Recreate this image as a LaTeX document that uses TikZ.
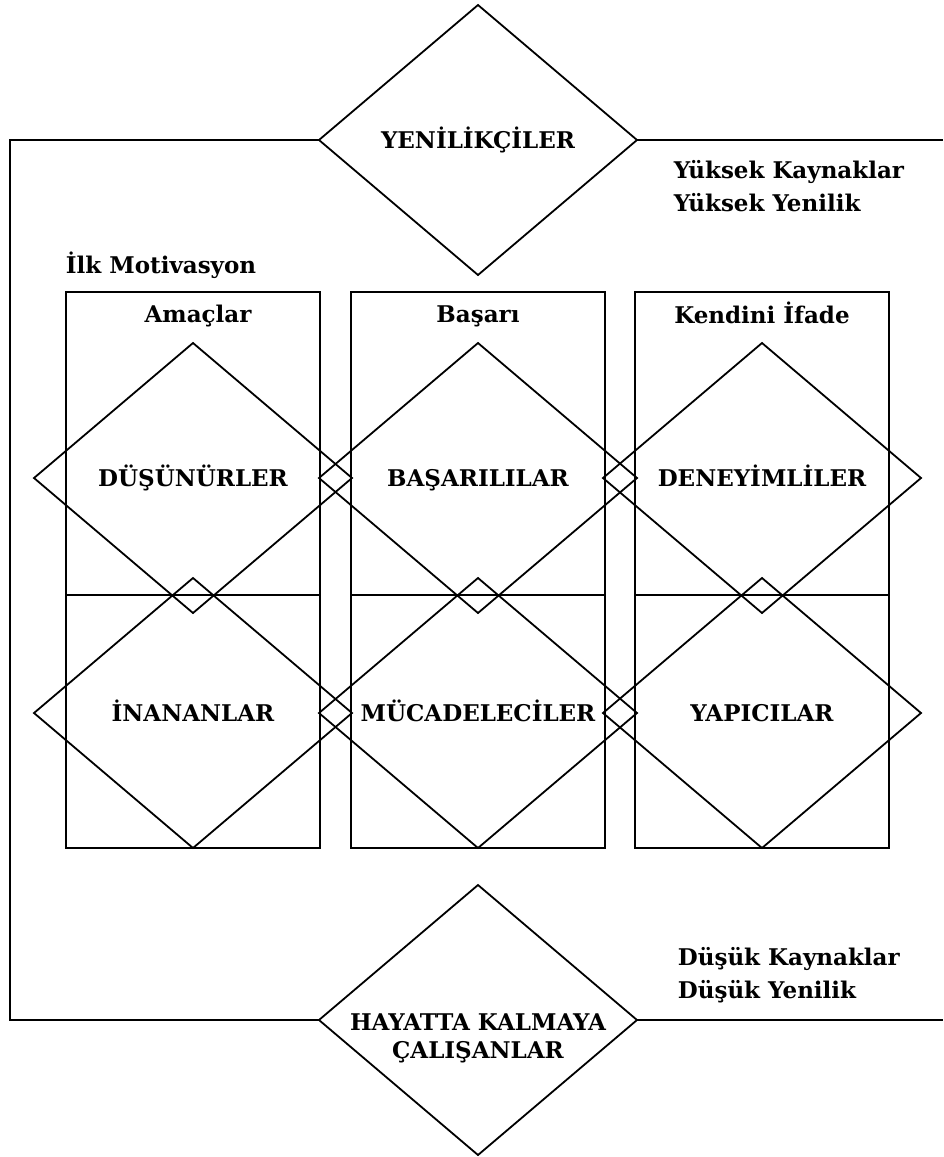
\documentclass[tikz,border=0pt]{standalone}
\usepackage{fontspec}
\setmainfont{DejaVu Serif}
\usetikzlibrary{shapes.geometric}
\tikzset{
  segment/.style={draw, diamond, inner sep=0pt, outer sep=0pt,
    text height=8.4pt, text depth=0pt,
    minimum width=159pt, minimum height=135pt},
  caption/.style={inner sep=0pt, font=\bfseries\fontsize{11.5}{16.5}\selectfont},
  side/.style={caption, align=left, anchor=west}
}

\begin{document}
\begin{tikzpicture}[x=0.5pt, y=-0.5pt, line width=0.9pt,
  every node/.style={font=\bfseries\fontsize{11.5}{14}\selectfont}]
\useasboundingbox (0,0) rectangle (943,1157);

\foreach \x in {66,351,635}
{
    \draw (\x,292) rectangle +(254,556);
    \draw (\x,595) -- +(254,0);
}

\node[segment] (innovators) at (478,140) {YENİLİKÇİLER};
\node[segment] (thinkers) at (193,478) {DÜŞÜNÜRLER};
\node[segment] (achievers) at (478,478) {BAŞARILILAR};
\node[segment] (experiencers) at (762,478) {DENEYİMLİLER};
\node[segment] (believers) at (193,713) {İNANANLAR};
\node[segment] (strivers) at (478,713) {MÜCADELECİLER};
\node[segment] (makers) at (762,713) {YAPICILAR};
\node[segment] (survivors) at (478,1020) {};
\node[align=center] (survivorstext) at (478,1038) {HAYATTA KALMAYA\\ÇALIŞANLAR};

\node[caption, anchor=west] (motivation) at (65,265) {İlk Motivasyon};
\node[caption] (ideals) at (198,316) {Amaçlar};
\node[caption] (achievement) at (478,316) {Başarı};
\node[caption] (selfexpression) at (762,313) {Kendini İfade};

\node[side] (high) at (673,186) {Yüksek Kaynaklar\\Yüksek Yenilik};
\node[side] (low) at (677,975) {Düşük Kaynaklar\\Düşük Yenilik};

\coordinate (nw) at (10,140);
\coordinate (ne) at (943,140);
\coordinate (se) at (943,1020);

\draw (innovators.west) -- (nw) |- (survivors.west);
\draw (innovators.east) -- (ne);
\draw (survivors.east) -- (se);
\end{tikzpicture}
\end{document}
